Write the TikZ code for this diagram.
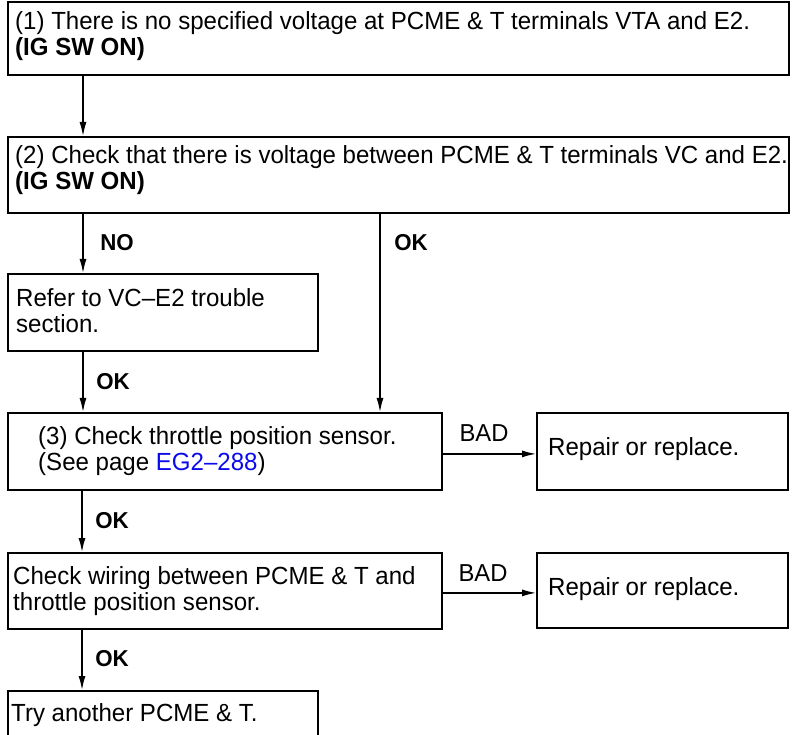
\documentclass[tikz,border=0pt]{standalone}
\usepackage{fontspec}
\setmainfont[FakeStretch=0.97]{Liberation Sans}
\usetikzlibrary{arrows.meta}
\definecolor{linkblue}{RGB}{10,10,235}
\begin{document}
\begin{tikzpicture}[x=1pt,y=-1pt,
  box/.style={draw, line width=1.8pt, rectangle, anchor=north west, inner sep=0pt},
  txt/.style={anchor=west, align=left, inner sep=0pt, font=\fontsize{24.8}{26}\selectfont},
  lbl/.style={inner sep=0pt, font=\fontsize{23}{25}\selectfont\bfseries},
  badlbl/.style={inner sep=0pt, font=\fontsize{24.5}{26}\selectfont},
  arr/.style={line width=1.4pt, -{Latex[length=14pt,width=7pt]}},
  ln/.style={line width=1.4pt}]
\useasboundingbox (0,0) rectangle (793,735);
% boxes
\node[box, minimum width=781pt, minimum height=73pt] (b1) at (7,1) {};
\node[box, minimum width=781pt, minimum height=76pt] (b2) at (7,136) {};
\node[box, minimum width=310pt, minimum height=77pt] (b3) at (7,273) {};
\node[box, minimum width=434pt, minimum height=77pt] (b4) at (7,412) {};
\node[box, minimum width=251pt, minimum height=77pt] (r1) at (536,412) {};
\node[box, minimum width=434pt, minimum height=76pt] (b5) at (7,552) {};
\node[box, minimum width=251pt, minimum height=75pt] (r2) at (536,552) {};
\node[box, minimum width=310pt, minimum height=50pt] (b6) at (7,690) {};
% texts
\node[txt] (t1) at ([xshift=8pt,yshift=2pt]b1.west) {(1) There is no specified voltage at PCME \& T terminals VTA and E2.\\\textbf{(IG SW ON)}};
\node[txt] (t2) at ([xshift=8pt,yshift=4.5pt]b2.west) {(2) Check that there is voltage between PCME \& T terminals VC and E2.\\\textbf{(IG SW ON)}};
\node[txt] (t3) at ([xshift=9pt,yshift=2pt]b3.west) {Refer to VC–E2 trouble\\section.};
\node[txt] (t4) at ([xshift=31pt]b4.west) {(3) Check throttle position sensor.\\(See page \textcolor{linkblue}{EG2–288})};
\node[txt] (tr1) at ([xshift=12pt,yshift=2.5pt]r1.west) {Repair or replace.};
\node[txt] (t5) at ([xshift=6pt]b5.west) {Check wiring between PCME \& T and\\throttle position sensor.};
\node[txt] (tr2) at ([xshift=12pt,yshift=1.5pt]r2.west) {Repair or replace.};
\node[txt] (t6) at ([xshift=4pt,yshift=1pt]b6.west) {Try another PCME \& T.};
% connectors
\draw[arr] ([xshift=76pt]b1.south west) -- ([xshift=76pt]b2.north west);
\draw[arr] ([xshift=76pt]b2.south west) -- ([xshift=76pt]b3.north west);
\draw[arr] ([xshift=373pt]b2.south west) -- ([xshift=373pt]b4.north west);
\draw[arr] ([xshift=76pt]b3.south west) -- ([xshift=76pt]b4.north west);
\draw[arr] ([yshift=-2.5pt]b4.east) -- ([yshift=-2.5pt]b4.east -| r1.west);
\draw[arr] ([yshift=-2pt]b5.east) -- ([yshift=-2pt]b5.east -| r2.west);
\draw[arr] ([xshift=75pt]b4.south west) -- ([xshift=75pt]b5.north west);
\draw[arr] ([xshift=75pt]b5.south west) -- ([xshift=75pt]b6.north west);
% labels
\node[lbl] (lno) at (117,243) {NO};
\node[lbl] (lok1) at (411,243) {OK};
\node[lbl] (lok2) at (113,382) {OK};
\node[badlbl] (lbad1) at (484,433) {BAD};
\node[lbl] (lok3) at (112,521) {OK};
\node[badlbl] (lbad2) at (483,573) {BAD};
\node[lbl] (lok4) at (112,659) {OK};
\end{tikzpicture}
\end{document}
